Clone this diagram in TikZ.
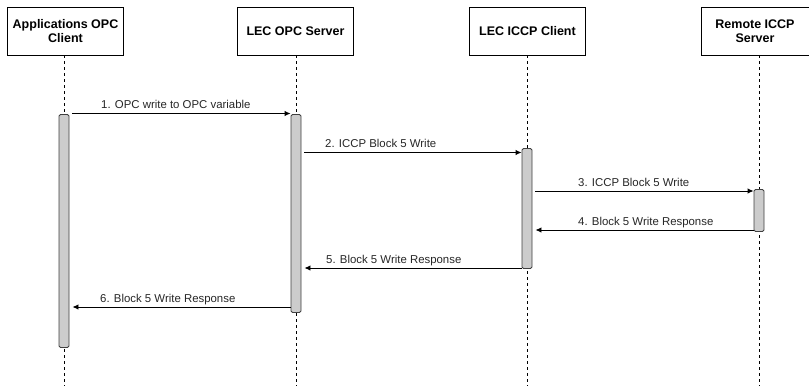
\documentclass[tikz,border=0pt]{standalone}
\usepackage{fontspec}
\setmainfont{Liberation Sans}
\usetikzlibrary{arrows.meta}

\begin{document}
\begin{tikzpicture}[x=1pt,y=-1pt,
    head/.style={draw,line width=0.9pt,minimum width=116pt,minimum height=48pt,align=center,inner sep=2pt,
      font=\bfseries\fontsize{12.5}{14.5}\selectfont},
    act/.style={draw=black!75,fill=black!20,line width=0.9pt,rounded corners=1.5pt,minimum width=10pt,inner sep=0pt,anchor=north},
    life/.style={line width=0.8pt,dash pattern=on 3pt off 3pt},
    msg/.style={line width=0.9pt,-{Latex[length=6pt,width=5.5pt]}},
    lbl/.style={anchor=base west,inner sep=0pt,text=black!85,font=\fontsize{11.4}{13}\selectfont}]
  \clip (0,0) rectangle (809,386);
  % participants
  \node[head] (h1) at (65.5,31) {Applications OPC\\Client};
  \node[head] (h2) at (295.5,31) {LEC OPC Server};
  \node[head] (h3) at (527.5,31) {LEC ICCP Client};
  \node[head,minimum width=108pt] (h4) at (755,31) {Remote ICCP\\Server};
  % lifelines
  \foreach \n/\x in {1/64,2/296,3/527,4/759}{
    \coordinate (end\n) at (\x,386);
    \draw[life] (h\n.south -| end\n) -- (end\n);
  }
  % activations
  \node[act,minimum height=233pt] (act1) at (64,114) {};
  \node[act,minimum height=198pt] (act2) at (296,114) {};
  \node[act,minimum height=120pt] (act3) at (527,148) {};
  \node[act,minimum height=42pt] (act4) at (759,189) {};
  % requests
  \foreach \i/\a/\b/\y/\lx/\txt in {1/act1/act2/113.5/101/{1. OPC write to OPC variable},
      2/act2/act3/152.5/325/{2. ICCP Block 5 Write},3/act3/act4/191/578/{3. ICCP Block 5 Write}}{
    \coordinate (m\i) at (\lx,\y);
    \draw[msg,shorten <=3pt] (\a.east |- m\i) -- (\b.west |- m\i);
    \node[lbl] (l\i) at ([yshift=5pt]m\i) {\txt};
  }
  % responses
  \foreach \i/\a/\b/\y/\lx/\txt in {4/act4/act3/230/578/{4. Block 5 Write Response},
      5/act3/act2/268/326/{5. Block 5 Write Response},6/act2/act1/307/100/{6. Block 5 Write Response}}{
    \coordinate (m\i) at (\lx,\y);
    \draw[msg,shorten >=3pt] (\a.west |- m\i) -- (\b.east |- m\i);
    \node[lbl] (l\i) at ([yshift=5pt]m\i) {\txt};
  }
\end{tikzpicture}
\end{document}
